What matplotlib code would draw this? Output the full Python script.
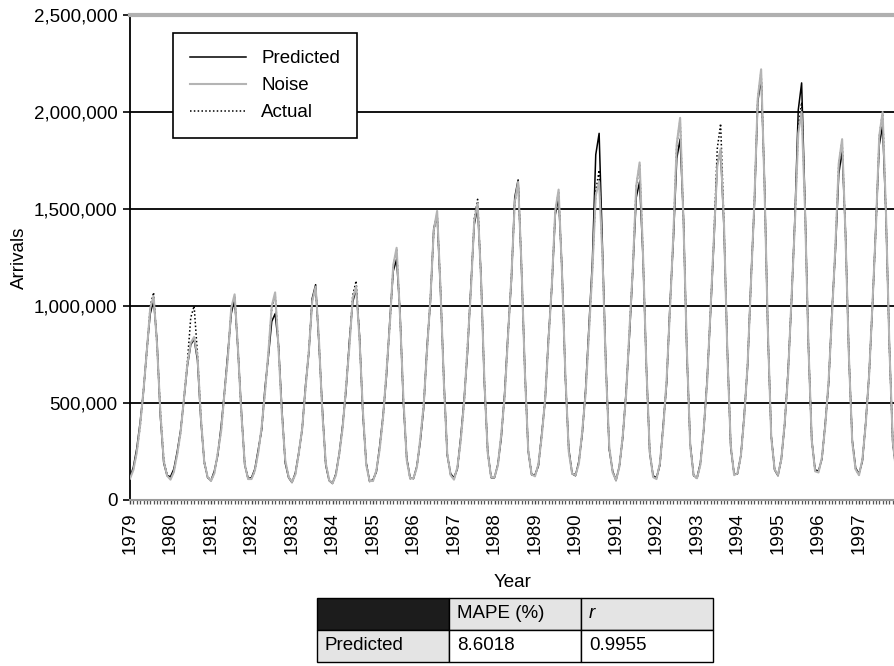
import numpy as np
import matplotlib
matplotlib.use("Agg")
import matplotlib.pyplot as plt
from matplotlib.ticker import MultipleLocator, StrMethodFormatter

plt.rcParams['font.family'] = ['Liberation Sans', 'DejaVu Sans']
plt.rcParams['font.size'] = 13.5

# ---- data: monthly arrivals (thousands), one row per year, Jan..Dec ----
YEARS = list(range(1979, 1998))

ACTUAL = [
    [120, 160, 250, 380, 570, 760, 1000, 1070, 800, 460, 210, 130],
    [110, 150, 240, 350, 530, 710, 940, 1000, 750, 430, 190, 120],
    [100, 140, 240, 360, 550, 740, 980, 1050, 780, 440, 190, 110],
    [110, 150, 250, 370, 560, 750, 990, 1060, 790, 450, 200, 120],
    [95, 135, 235, 370, 570, 775, 1030, 1100, 815, 450, 185, 105],
    [90, 130, 235, 375, 585, 795, 1055, 1130, 835, 455, 185, 100],
    [100, 150, 270, 425, 665, 905, 1205, 1290, 955, 520, 210, 110],
    [115, 170, 310, 490, 765, 1040, 1385, 1480, 1095, 600, 240, 130],
    [110, 165, 310, 500, 790, 1085, 1450, 1550, 1140, 620, 240, 120],
    [120, 180, 335, 535, 840, 1150, 1530, 1640, 1210, 655, 255, 135],
    [125, 180, 330, 525, 820, 1115, 1485, 1590, 1175, 640, 255, 140],
    [130, 190, 350, 555, 875, 1190, 1590, 1700, 1255, 685, 270, 145],
    [105, 170, 335, 550, 875, 1205, 1615, 1730, 1270, 680, 250, 120],
    [110, 185, 375, 615, 990, 1365, 1830, 1960, 1435, 765, 280, 130],
    [110, 185, 370, 610, 980, 1350, 1810, 1940, 1425, 760, 280, 130],
    [140, 225, 430, 705, 1120, 1540, 2065, 2210, 1625, 870, 325, 160],
    [130, 210, 405, 655, 1045, 1430, 1915, 2050, 1510, 810, 305, 150],
    [145, 215, 385, 610, 955, 1300, 1730, 1850, 1370, 750, 300, 160],
    [130, 205, 395, 640, 1020, 1395, 1870, 2000, 1470, 790, 300, 150],
]

PREDICTED = [
    [115, 170, 265, 400, 560, 780, 960, 1030, 820, 430, 190, 125],
    [120, 160, 250, 360, 520, 690, 800, 830, 720, 410, 200, 115],
    [100, 150, 230, 380, 560, 760, 960, 1040, 770, 460, 180, 110],
    [115, 160, 260, 360, 580, 740, 920, 960, 800, 470, 190, 115],
    [90, 140, 245, 360, 590, 760, 1040, 1110, 800, 470, 180, 100],
    [85, 135, 240, 385, 560, 820, 1020, 1090, 850, 440, 190, 95],
    [105, 145, 280, 440, 640, 930, 1180, 1240, 970, 500, 215, 115],
    [110, 175, 300, 470, 790, 1020, 1400, 1470, 1080, 620, 230, 135],
    [115, 160, 325, 520, 760, 1100, 1420, 1510, 1160, 600, 250, 115],
    [115, 185, 320, 550, 860, 1130, 1560, 1650, 1190, 670, 250, 130],
    [130, 175, 345, 510, 840, 1100, 1470, 1560, 1190, 630, 265, 135],
    [125, 200, 340, 570, 900, 1230, 1780, 1890, 1290, 700, 260, 150],
    [100, 175, 320, 560, 850, 1190, 1560, 1640, 1250, 690, 240, 125],
    [115, 180, 390, 600, 1010, 1340, 1760, 1860, 1450, 750, 290, 125],
    [115, 190, 360, 620, 960, 1330, 1730, 1800, 1400, 770, 270, 135],
    [135, 230, 440, 690, 1140, 1520, 2050, 2180, 1640, 860, 330, 155],
    [125, 215, 390, 670, 1020, 1450, 2010, 2150, 1530, 800, 310, 155],
    [150, 210, 395, 600, 980, 1280, 1680, 1800, 1380, 740, 310, 165],
    [135, 200, 400, 650, 1000, 1410, 1830, 1930, 1460, 800, 295, 155],
]

NOISE = [
    [110, 155, 245, 385, 565, 770, 990, 1050, 805, 450, 200, 125],
    [105, 145, 235, 350, 525, 700, 810, 840, 740, 425, 195, 118],
    [98, 138, 242, 355, 555, 735, 990, 1060, 775, 445, 185, 108],
    [108, 152, 245, 375, 555, 760, 1000, 1070, 785, 445, 205, 118],
    [92, 132, 240, 365, 575, 770, 1025, 1100, 820, 445, 190, 102],
    [86, 128, 238, 370, 580, 790, 1040, 1100, 830, 460, 180, 98],
    [98, 152, 265, 430, 660, 910, 1210, 1300, 950, 525, 205, 112],
    [112, 168, 315, 485, 770, 1035, 1390, 1490, 1090, 605, 238, 128],
    [105, 168, 308, 505, 785, 1080, 1440, 1530, 1145, 615, 242, 118],
    [118, 178, 338, 530, 845, 1145, 1535, 1640, 1205, 660, 252, 132],
    [122, 184, 328, 520, 822, 1110, 1490, 1600, 1170, 645, 250, 136],
    [128, 188, 355, 550, 870, 1185, 1570, 1640, 1250, 680, 275, 142],
    [102, 172, 330, 545, 880, 1200, 1620, 1740, 1265, 685, 248, 118],
    [108, 188, 372, 620, 985, 1370, 1835, 1970, 1430, 770, 278, 128],
    [112, 182, 368, 605, 975, 1340, 1720, 1810, 1420, 755, 282, 128],
    [138, 228, 428, 700, 1125, 1535, 2070, 2220, 1620, 875, 322, 158],
    [128, 212, 400, 650, 1040, 1425, 1890, 2000, 1500, 805, 308, 148],
    [142, 218, 382, 615, 950, 1305, 1735, 1860, 1365, 745, 298, 158],
    [128, 208, 392, 645, 1015, 1400, 1875, 2000, 1475, 795, 302, 148],
]

TABLE_HEAD = ["", "MAPE (%)", "r"]
TABLE_ROW = ["Predicted", "8.6018", "0.9955"]

# month positions on a decimal-year axis
t = (np.array(YEARS)[:, None] + np.arange(12)[None, :] / 12.0).ravel()
actual = np.array(ACTUAL).ravel() * 1000
predicted = np.array(PREDICTED).ravel() * 1000
noise = np.array(NOISE).ravel() * 1000

fig = plt.figure(figsize=(8.95, 6.66), dpi=100)
ax = fig.add_axes([130 / 895, 166 / 666, 765 / 895, 485 / 666])

for y in [500000, 1000000, 1500000, 2000000]:
    ax.axhline(y, color='black', lw=1.3, zorder=1)

ax.plot(t, predicted, color='black', lw=1.1, label='Predicted', zorder=3)
ax.plot(t, noise, color='#b4b4b4', lw=1.5, label='Noise', zorder=5)
ax.plot(t, actual, color='black', lw=1.1, ls=(0, (1, 1.5)), label='Actual', zorder=4)

ax.set_xlim(1979, 1979 + 765 / 40.5)
ax.set_ylim(0, 2500000)
ax.yaxis.set_major_locator(MultipleLocator(500000))
ax.yaxis.set_major_formatter(StrMethodFormatter('{x:,.0f}'))
ax.set_xticks(YEARS)
ax.set_xticklabels([str(y) for y in YEARS], rotation=90)
ax.xaxis.set_minor_locator(MultipleLocator(1 / 12))
ax.tick_params(axis='x', which='major', length=3, width=1, color='#444', pad=6)
ax.tick_params(axis='x', which='minor', length=3, width=0.9, color='#555')
ax.tick_params(axis='y', length=5, width=1.2, pad=4)

ax.spines['top'].set_color('#b0b0b0')
ax.spines['top'].set_linewidth(3)
ax.spines['right'].set_visible(False)
ax.spines['left'].set_linewidth(1.3)
ax.spines['bottom'].set_color('#9a9a9a')
ax.spines['bottom'].set_linewidth(1.5)

ax.set_ylabel('Arrivals', labelpad=4)
ax.set_xlabel('Year', labelpad=14)

leg = ax.legend(loc='upper left', bbox_to_anchor=(0.056, 0.963), fancybox=False,
                edgecolor='black', framealpha=1, handlelength=3.0,
                labelspacing=0.52, borderpad=0.92, handletextpad=0.8, borderaxespad=0)
leg.get_frame().set_linewidth(1.2)

# summary table under the plot
tax = fig.add_axes([317 / 895, 4 / 666, 396 / 895, 64 / 666])
tax.axis('off')
tbl = tax.table(cellText=[TABLE_HEAD, TABLE_ROW],
                cellColours=[['#1c1c1c', '#e4e4e4', '#e4e4e4'],
                             ['#e4e4e4', 'white', 'white']],
                cellLoc='left', bbox=[0, 0, 1, 1])
tbl.auto_set_font_size(False)
for (r, c), cell in tbl.get_celld().items():
    cell.set_edgecolor('black')
    cell.set_linewidth(1.0)
    cell.get_text().set_fontsize(13.5)
    cell.PAD = 0.06
    if r == 0 and c == 2:
        cell.get_text().set_fontstyle('italic')

fig.savefig('out.png', dpi=100)
